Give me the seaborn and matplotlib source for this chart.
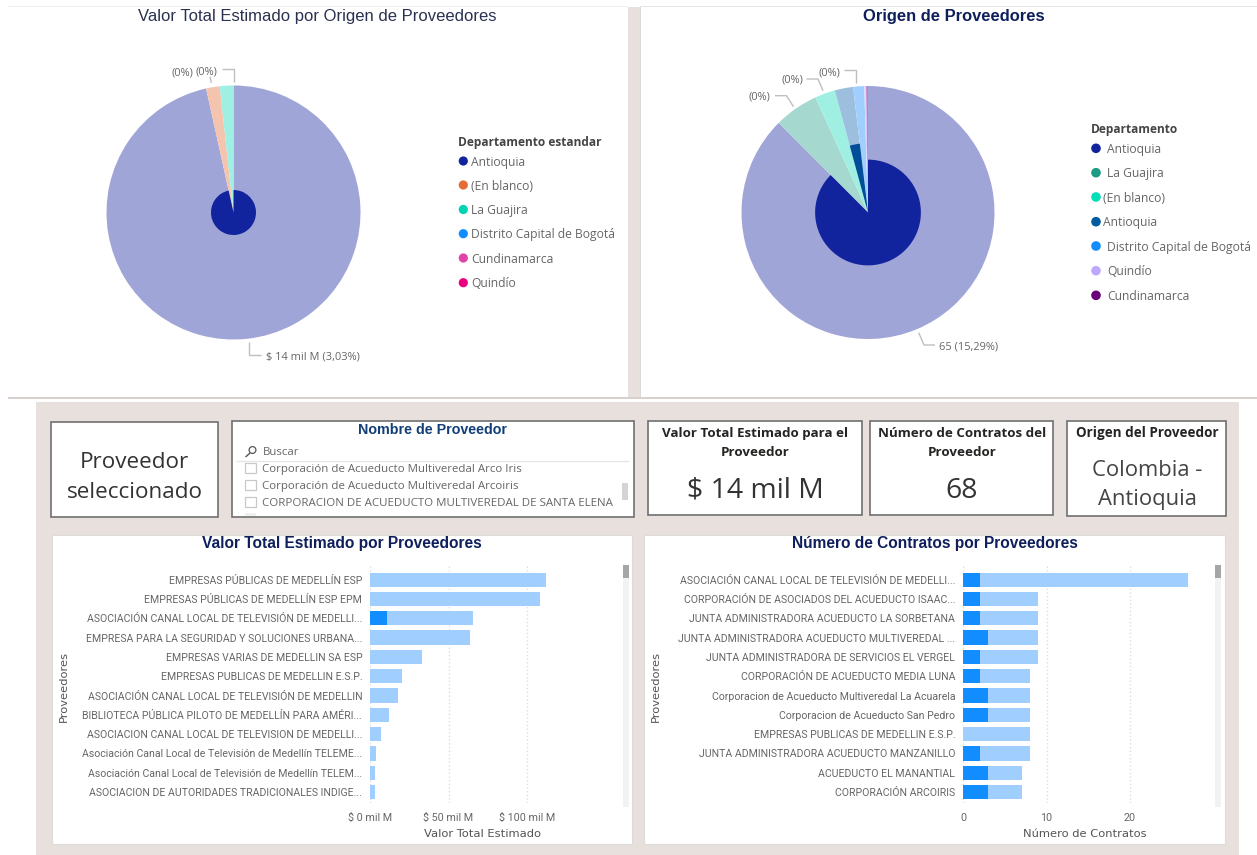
import numpy as np
import pandas as pd
import seaborn as sns
import matplotlib.pyplot as plt
from matplotlib.patches import Rectangle, Circle

W, H = 1257, 855

# Datos de las tortas
departamentos_valor = ['Antioquia', '(En blanco)', 'La Guajira', 'Distrito Capital de Bogotá', 'Cundinamarca', 'Quindío']
colores_leyenda_valor = ['#12239E', '#E66C37', '#01D2B0', '#118DFF', '#E044A7', '#ED0080']
valor_total = [446, 8, 8]
valor_seleccion = [14, 0, 0]
colores_valor = ['#A0A5D8', '#F5C4AF', '#9FF0E2']
oscuros_valor = ['#12239E', '#E66C37', '#01D2B0']

departamentos_origen = ['Antioquia', 'La Guajira', '(En blanco)', 'Antioquia', 'Distrito Capital de Bogotá', 'Quindío', 'Cundinamarca']
colores_leyenda_origen = ['#12239E', '#1E9B84', '#01DFB8', '#005BA0', '#118DFF', '#BDAAFF', '#6B007B']
origen_total = [372, 24, 11, 10, 6, 1, 1]
origen_seleccion = [65, 0, 0, 3, 0, 0, 0]
colores_origen = ['#A0A5D8', '#A5D9CF', '#9FF0E2', '#9BBFDD', '#A0CFFF', '#DDD4FF', '#C080C8']
oscuros_origen = ['#12239E', '#1E9B84', '#01DFB8', '#004E98', '#118DFF', '#BDAAFF', '#6B007B']

# Datos de las barras
proveedores_valor = [
    'EMPRESAS PÚBLICAS DE MEDELLÍN ESP',
    'EMPRESAS PÚBLICAS DE MEDELLÍN ESP EPM',
    'ASOCIACIÓN CANAL LOCAL DE TELEVISIÓN DE MEDELLI...',
    'EMPRESA PARA LA SEGURIDAD Y SOLUCIONES URBANA...',
    'EMPRESAS VARIAS DE MEDELLIN SA ESP',
    'EMPRESAS PUBLICAS DE MEDELLIN E.S.P.',
    'ASOCIACIÓN CANAL LOCAL DE TELEVISIÓN DE MEDELLIN',
    'BIBLIOTECA PÚBLICA PILOTO DE MEDELLÍN PARA AMÉRI...',
    'ASOCIACION CANAL LOCAL DE TELEVISION DE MEDELLI...',
    'Asociación Canal Local de Televisión de Medellín TELEME...',
    'Asociación Canal Local de Televisión de Medellín TELEM...',
    'ASOCIACION DE AUTORIDADES TRADICIONALES INDIGE...',
]
valor_estimado = [112.2, 108.8, 65.8, 64, 33, 20, 18, 12, 6.6, 3.7, 3, 3]
valor_resaltado = [0, 0, 10.5, 0, 0, 0, 0, 0, 0, 0, 0, 0]

proveedores_contratos = [
    'ASOCIACIÓN CANAL LOCAL DE TELEVISIÓN DE MEDELLI...',
    'CORPORACIÓN DE ASOCIADOS DEL ACUEDUCTO ISAAC...',
    'JUNTA ADMINISTRADORA ACUEDUCTO LA SORBETANA',
    'JUNTA ADMINISTRADORA ACUEDUCTO MULTIVEREDAL ...',
    'JUNTA ADMINISTRADORA DE SERVICIOS EL VERGEL',
    'CORPORACIÓN DE ACUEDUCTO MEDIA LUNA',
    'Corporacion de Acueducto Multiveredal La Acuarela',
    'Corporacion de Acueducto San Pedro',
    'EMPRESAS PUBLICAS DE MEDELLIN E.S.P.',
    'JUNTA ADMINISTRADORA ACUEDUCTO MANZANILLO',
    'ACUEDUCTO EL MANANTIAL',
    'CORPORACIÓN ARCOIRIS',
]
contratos_total = [27, 9, 9, 9, 9, 8, 8, 8, 8, 8, 7, 7]
contratos_resaltado = [2, 2, 2, 3, 2, 2, 3, 3, 0, 2, 3, 3]

items_slicer = [
    'Corporación de Acueducto Multiveredal Arco Iris',
    'Corporación de Acueducto Multiveredal Arcoiris',
    'CORPORACION DE ACUEDUCTO MULTIVEREDAL DE SANTA ELENA',
]

sns.set_theme(style='white')
plt.rcParams['font.family'] = ['Open Sans', 'DejaVu Sans']

fig = plt.figure(figsize=(W / 100, H / 100), dpi=100, facecolor='white')
lienzo = fig.add_axes([0, 0, 1, 1], zorder=0)
lienzo.set_xlim(0, W)
lienzo.set_ylim(H, 0)
lienzo.axis('off')

FONDO = '#E8E0DC'
GRIS = '#666666'
SIN_BORDE = {'linewidth': 0, 'edgecolor': 'none'}


def caja(x0, y0, x1, y1, color='white', borde='none', lw=0):
    lienzo.add_patch(Rectangle((x0, y0), x1 - x0, y1 - y0, facecolor=color, edgecolor=borde, linewidth=lw))


def texto(x, y, s, px, color=GRIS, ha='center', bold=False, familia='Open Sans', rot=0):
    # Open Sans queda alta con va center, se baja un poco
    if familia == 'Open Sans':
        y = y + px * 0.1
    lienzo.text(x, y, s, fontsize=px * 0.72, color=color, ha=ha, va='center', rotation=rot,
                fontweight='bold' if bold else 'normal', family=familia)


def linea(xs, ys, color='#BFBFBF', lw=1.0):
    lienzo.plot(xs, ys, color=color, lw=lw, solid_capstyle='butt')


def torta(cx, cy, r, totales, seleccion, colores, oscuros):
    ax = fig.add_axes([(cx - r) / W, 1 - (cy + r) / H, 2 * r / W, 2 * r / H], zorder=2)
    ax.pie(totales, colors=colores, startangle=90, counterclock=False, radius=1, wedgeprops=SIN_BORDE)
    # cada porcion resaltada tiene area proporcional a lo seleccionado
    for i, sel in enumerate(seleccion):
        if sel > 0:
            cols = ['none'] * len(totales)
            cols[i] = oscuros[i]
            ax.pie(totales, colors=cols, startangle=90, counterclock=False,
                   radius=np.sqrt(sel / totales[i]), wedgeprops=SIN_BORDE)
    ax.set_xlim(-1, 1)
    ax.set_ylim(-1, 1)
    ax.set_aspect('equal')


def barras(x0, x1, px_unidad, nombres, total, resaltado, ticks, etiquetas_x, xlabel, x_xlabel, x_ylabel):
    y0, y1 = 565, 803
    ax = fig.add_axes([x0 / W, 1 - y1 / H, (x1 - x0) / W, (y1 - y0) / H], zorder=2)
    ax.patch.set_alpha(0)
    df = pd.DataFrame({'proveedor': nombres, 'total': total, 'resaltado': resaltado})
    sns.barplot(data=df, y='proveedor', x='total', color='#A0CFFF', saturation=1, width=0.745,
                errorbar=None, ax=ax, zorder=2, linewidth=0)
    sns.barplot(data=df, y='proveedor', x='resaltado', color='#118DFF', saturation=1, width=0.745,
                errorbar=None, ax=ax, zorder=3, linewidth=0)
    ax.set_xlim(0, (x1 - x0) / px_unidad)
    ax.set_ylim((y1 - 579.7) / 19.3, (y0 - 579.7) / 19.3)
    ax.set_xticks(ticks)
    ax.set_xticklabels(etiquetas_x, fontsize=10.7 * 0.72, color=GRIS, family='Roboto')
    ax.set_yticks(range(len(nombres)))
    ax.set_yticklabels(nombres, fontsize=10.5 * 0.72, color=GRIS, family='Roboto')
    ax.tick_params(axis='y', length=0, pad=5.8)
    ax.tick_params(axis='x', length=0, pad=7)
    ax.grid(axis='x', linestyle=':', color='#DEDEDE', linewidth=1)
    ax.set_axisbelow(True)
    sns.despine(ax=ax, left=True, bottom=True)
    ax.set_xlabel(xlabel, fontsize=11.5 * 0.72, color='#555555', family='DejaVu Sans', va='center')
    ax.set_ylabel('Proveedores', fontsize=11.5 * 0.72, color='#555555', family='DejaVu Sans', va='center')
    ax.xaxis.set_label_coords((x_xlabel - x0) / (x1 - x0), (y1 - 834) / (y1 - y0))
    ax.yaxis.set_label_coords((x_ylabel - x0) / (x1 - x0), (y1 - 686) / (y1 - y0))


# Fondos de la pagina
caja(628, 7, 640, 397, color=FONDO)
caja(8, 6, 628, 7, color='#EEEEEE')
caja(640, 6, 1257, 7, color='#E4E4E4')
caja(640, 7, 641, 397, color='#DADADA')
caja(8, 397, W, 399, color='#D8D0CC')
caja(36, 402, 1239, 855, color=FONDO)

# Tortas
texto(317, 17, 'Valor Total Estimado por Origen de Proveedores', 16.6, color='#2A3050', familia='Liberation Sans')
texto(954, 17, 'Origen de Proveedores', 16.5, color='#0F1F5C', bold=True, familia='Liberation Sans')
torta(233.5, 212.5, 127, valor_total, valor_seleccion, colores_valor, oscuros_valor)
torta(868, 212.5, 126.5, origen_total, origen_seleccion, colores_origen, oscuros_origen)

texto(182, 72, '(0%)', 11)
texto(206.5, 71, '(0%)', 11)
linea([210, 211.4], [76.7, 83])
linea([222.4, 233.5, 233.5], [69.3, 69.3, 81.7])
linea([249, 249, 261], [341.7, 355, 355])
texto(266, 356, '$ 14 mil M (3,03%)', 11, ha='left')

texto(759, 96, '(0%)', 11)
texto(792, 79, '(0%)', 11)
texto(829, 71.5, '(0%)', 11)
linea([775, 786.5, 793.5], [95.7, 95.7, 106.7])
linea([806.5, 818, 823], [79, 79, 90.7])
linea([844, 855.7, 855.7], [70, 70, 83])
linea([918.7, 924, 935], [332.7, 345, 345])
texto(939, 345.7, '65 (15,29%)', 11, ha='left')

# Leyendas
texto(458, 141, 'Departamento estandar', 11.9, color='#444444', ha='left', bold=True)
for nombre, color, y in zip(departamentos_valor, colores_leyenda_valor, [161, 185, 209.5, 233.7, 258, 282.7]):
    lienzo.add_patch(Circle((463.3, y), 4.6, color=color, ec='none'))
    texto(471, y, nombre, 12.1, ha='left')

texto(1091, 128, 'Departamento', 11.9, color='#444444', ha='left', bold=True)
x_ley = [1107, 1107, 1103, 1103, 1107, 1107, 1107]
for nombre, color, y, xt in zip(departamentos_origen, colores_leyenda_origen,
                                [148.3, 172.7, 197, 221.7, 246, 270.7, 295.3], x_ley):
    lienzo.add_patch(Circle((1096, y), 4.8, color=color, ec='none'))
    texto(xt, y, nombre, 12.1, ha='left')

# Tarjetas
BORDE = '#707070'
caja(50.5, 422, 218, 517, borde=BORDE, lw=1.2)
texto(134.5, 460, 'Proveedor', 22.5, color='#333333')
texto(134.5, 490, 'seleccionado', 22.5, color='#333333')

caja(231.5, 421, 634, 517, borde=BORDE, lw=1.2)
texto(433, 430, 'Nombre de Proveedor', 14.2, color='#123F78', bold=True, familia='Liberation Sans')
lienzo.add_patch(Circle((252.5, 450), 3.4, facecolor='none', edgecolor='#555555', linewidth=0.9))
linea([250, 245.5], [453, 457], color='#555555', lw=1)
texto(263, 451, 'Buscar', 11.5, ha='left')
linea([236, 629], [460.7, 460.7], color='#E6E6E6', lw=1)
for item, y in zip(items_slicer, [468, 485, 502]):
    lienzo.add_patch(Rectangle((245, y - 5), 11, 10, facecolor='white', edgecolor='#C8C8C8', linewidth=0.9))
    texto(262, y, item, 11.5, ha='left')
lienzo.add_patch(Rectangle((245, 513), 11, 3, facecolor='#F0F0F0', edgecolor='none'))
caja(621.5, 482.7, 628, 500, color='#D4D4D4')

caja(648, 421, 861.5, 515, borde=BORDE, lw=1.2)
texto(755, 432, 'Valor Total Estimado para el', 13.4, color='#252423', bold=True)
texto(755, 451, 'Proveedor', 13.4, color='#252423', bold=True)
texto(755, 488, '$ 14 mil M', 28.4, color='#333333')

caja(870, 421, 1052.5, 515, borde=BORDE, lw=1.2)
texto(962, 432, 'Número de Contratos del', 13.4, color='#252423', bold=True)
texto(962, 451, 'Proveedor', 13.4, color='#252423', bold=True)
texto(962, 488, '68', 28.4, color='#333333')

caja(1067, 421, 1226, 516, borde=BORDE, lw=1.2)
texto(1147, 432, 'Origen del Proveedor', 13.5, color='#252423', bold=True)
texto(1147, 468, 'Colombia -', 22, color='#444444')
texto(1147, 497, 'Antioquia', 22, color='#444444')

# Paneles de barras
caja(51.5, 535, 631.5, 844, borde='#DCDCDC', lw=0.8)
caja(644, 535, 1224.5, 844, borde='#DCDCDC', lw=0.8)
texto(342, 543.5, 'Valor Total Estimado por Proveedores', 15.5, color='#0F1F5C', bold=True, familia='Liberation Sans')
texto(934.5, 543.5, 'Número de Contratos por Proveedores', 15.5, color='#0F1F5C', bold=True, familia='Liberation Sans')

for x0 in [622.5, 1214.5]:
    caja(x0, 565, x0 + 6.5, 807, color='#F2F2F2')
    caja(x0, 565, x0 + 6.5, 578, color='#A6A6A6')

barras(370.3, 610, 1.564, proveedores_valor, valor_estimado, valor_resaltado,
       [0, 50, 100], ['$ 0 mil M', '$ 50 mil M', '$ 100 mil M'], 'Valor Total Estimado', 482, 63.7)
barras(963.2, 1205, 8.34, proveedores_contratos, contratos_total, contratos_resaltado,
       [0, 10, 20], ['0', '10', '20'], 'Número de Contratos', 1085, 655.7)

fig.savefig('out.png', dpi=100)
